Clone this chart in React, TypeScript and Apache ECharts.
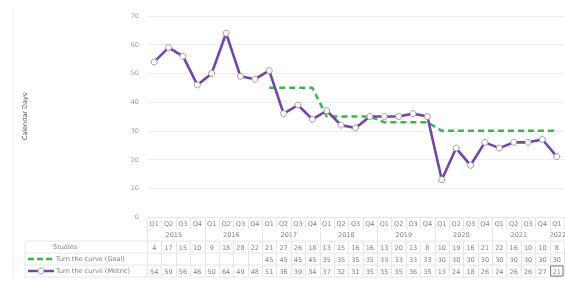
import React, { useEffect, useRef } from 'react';
import * as echarts from 'echarts';

const yearLabels = ['2015', '2016', '2017', '2018', '2019', '2020', '2021', '2022'];
const quartersPerYear = [4, 4, 4, 4, 4, 4, 4, 1];
const quarterNames = ['Q1', 'Q2', 'Q3', 'Q4'];
const studies = [4, 17, 15, 10, 9, 18, 28, 22, 21, 27, 26, 18, 13, 15, 16, 16, 13, 20, 13, 8, 10, 19, 16, 21, 22, 16, 10, 10, 8];
const goal: (number | null)[] = [null, null, null, null, null, null, null, null, 45, 45, 45, 45, 35, 35, 35, 35, 33, 33, 33, 33, 30, 30, 30, 30, 30, 30, 30, 30, 30];
const metric = [54, 59, 56, 46, 50, 64, 49, 48, 51, 36, 39, 34, 37, 32, 31, 35, 35, 35, 36, 35, 13, 24, 18, 26, 24, 26, 26, 27, 21];
const rowNames = ['Studies', 'Turn the curve (Goal)', 'Turn the curve (Metric)'];
const yMin = 0;
const yMax = 70;
const yInterval = 10;

const categories: string[] = [];
const quarterLabels: string[] = [];
yearLabels.forEach((y, yi) => {
  for (let q = 0; q < quartersPerYear[yi]; q++) {
    categories.push(y + ' ' + quarterNames[q]);
    quarterLabels.push(quarterNames[q]);
  }
});

const FONT = '"DejaVu Sans", Verdana, sans-serif';
const FS = 6.5;
const TXT = '#808080';
const LINE = '#e6e6e6';
const PURPLE = '#7544a8';
const GREEN = '#3db54e';

export default function App() {
  const ref = useRef<HTMLDivElement>(null);
  useEffect(() => {
    if (!ref.current) return;
    const chart = echarts.init(ref.current, undefined, { renderer: 'svg' });
    const rowAxis = (offset: number, values: (number | null)[]) => ({
      type: 'category',
      data: categories,
      position: 'bottom',
      offset,
      axisLine: { show: false },
      axisTick: { show: false },
      splitLine: { show: false },
      axisLabel: {
        interval: 0,
        margin: 3,
        fontSize: FS,
        fontFamily: FONT,
        color: TXT,
        formatter: (_v: string, i: number) => (values[i] == null ? '' : String(values[i])),
      },
    });
    chart.setOption({
      animation: false,
      textStyle: { fontFamily: FONT },
      grid: { left: 147, right: 1, top: 16, bottom: 65, containLabel: false },
      xAxis: [
        {
          type: 'category',
          data: categories,
          boundaryGap: true,
          axisLine: { show: true, lineStyle: { color: LINE } },
          axisTick: { show: false },
          axisLabel: {
            interval: 0,
            margin: 3,
            fontSize: FS,
            fontFamily: FONT,
            color: TXT,
            formatter: (_v: string, i: number) => quarterLabels[i],
          },
        },
        rowAxis(24, studies),
        rowAxis(36, goal),
        rowAxis(48, metric),
      ],
      yAxis: {
        type: 'value',
        min: yMin,
        max: yMax,
        interval: yInterval,
        name: 'Calendar Days',
        nameLocation: 'middle',
        nameRotate: 90,
        nameGap: 119,
        nameTextStyle: { fontSize: FS, color: '#555', fontFamily: FONT },
        axisLine: { show: false },
        axisTick: { show: false },
        axisLabel: { fontSize: FS, color: '#a0a0a0', margin: 8, fontFamily: FONT },
        splitLine: { lineStyle: { color: '#eeeeee', width: 1 } },
      },
      series: [
        {
          name: rowNames[1],
          type: 'line',
          data: goal,
          symbol: 'none',
          lineStyle: { color: GREEN, width: 2.5, type: [6, 4] },
          itemStyle: { color: GREEN },
          z: 2,
        },
        {
          name: rowNames[2],
          type: 'line',
          data: metric,
          symbol: 'circle',
          symbolSize: 6,
          lineStyle: { color: PURPLE, width: 2.6 },
          itemStyle: { color: '#fff', borderColor: '#9a9a9a', borderWidth: 1 },
          z: 3,
        },
      ],
    });

    // table decoration using the axis scale
    const px = (i: number) => chart.convertToPixel({ xAxisIndex: 0 }, categories[i]) as number;
    const n = categories.length;
    const step = px(1) - px(0);
    const left = px(0) - step / 2;
    const right = px(n - 1) + step / 2;
    const y0 = chart.convertToPixel({ yAxisIndex: 0 }, yMin) as number;
    const rowH = 12;
    const qTop = y0;
    const qBot = y0 + rowH;
    const dataTop = y0 + 24;
    const bottom = dataTop + rowH * 3;
    const lineStyle = { stroke: LINE, lineWidth: 1 };
    const g: any[] = [];
    [dataTop, dataTop + rowH, dataTop + rowH * 2, bottom].forEach((y) => {
      g.push({ type: 'line', shape: { x1: 25, y1: y, x2: right, y2: y }, style: lineStyle, silent: true });
    });
    g.push({ type: 'line', shape: { x1: 25, y1: dataTop, x2: 25, y2: bottom }, style: lineStyle, silent: true });
    g.push({ type: 'line', shape: { x1: 13, y1: 7, x2: 13, y2: 280 }, style: { stroke: '#f2f2f2', lineWidth: 1 }, silent: true });
    for (let i = 0; i <= n; i++) {
      const x = Math.round(left + step * i) + 0.5;
      g.push({ type: 'line', shape: { x1: x, y1: qTop, x2: x, y2: qBot }, style: lineStyle, silent: true });
      g.push({ type: 'line', shape: { x1: x, y1: dataTop, x2: x, y2: bottom }, style: lineStyle, silent: true });
    }
    let idx = 0;
    yearLabels.forEach((y, yi) => {
      const s = idx;
      const e = idx + quartersPerYear[yi] - 1;
      const cx = (px(s) + px(e)) / 2 - 2;
      g.push({
        type: 'text',
        x: quartersPerYear[yi] === 1 ? px(s) + 1 : cx,
        y: y0 + 18,
        style: { text: y, fontSize: FS, fontFamily: FONT, fill: TXT, align: 'center', verticalAlign: 'middle' },
        silent: true,
      });
      const bx = Math.round(left + step * s) + 0.5;
      g.push({ type: 'line', shape: { x1: bx, y1: qTop, x2: bx, y2: bottom }, style: lineStyle, silent: true });
      idx = e + 1;
    });
    const rowYs = [dataTop + rowH / 2, dataTop + rowH * 1.5, dataTop + rowH * 2.5];
    g.push({ type: 'text', x: 53, y: rowYs[0], style: { text: rowNames[0], fontSize: FS, fontFamily: FONT, fill: TXT, verticalAlign: 'middle' }, silent: true });
    g.push({ type: 'text', x: 56, y: rowYs[1], style: { text: rowNames[1], fontSize: FS, fontFamily: FONT, fill: TXT, verticalAlign: 'middle' }, silent: true });
    g.push({ type: 'text', x: 56, y: rowYs[2], style: { text: rowNames[2], fontSize: FS, fontFamily: FONT, fill: TXT, verticalAlign: 'middle' }, silent: true });
    g.push({ type: 'line', shape: { x1: 28, y1: rowYs[1], x2: 54, y2: rowYs[1] }, style: { stroke: GREEN, lineWidth: 2.5, lineDash: [6, 3] }, silent: true });
    g.push({ type: 'line', shape: { x1: 28, y1: rowYs[2], x2: 54, y2: rowYs[2] }, style: { stroke: PURPLE, lineWidth: 2.5 }, silent: true });
    g.push({ type: 'circle', shape: { cx: 41, cy: rowYs[2], r: 3 }, style: { fill: '#fff', stroke: '#9a9a9a', lineWidth: 1 }, silent: true });
    g.push({
      type: 'rect',
      shape: { x: px(n - 1) - step / 2 + 1, y: dataTop + rowH * 2 + 1, width: step - 2, height: rowH - 2 },
      style: { fill: 'none', stroke: '#777', lineWidth: 1 },
      silent: true,
    });
    chart.setOption({ graphic: g });
    return () => chart.dispose();
  }, []);
  return <div ref={ref} style={{ position: 'fixed', left: 0, top: 0, width: 565, height: 282 }} />;
}
